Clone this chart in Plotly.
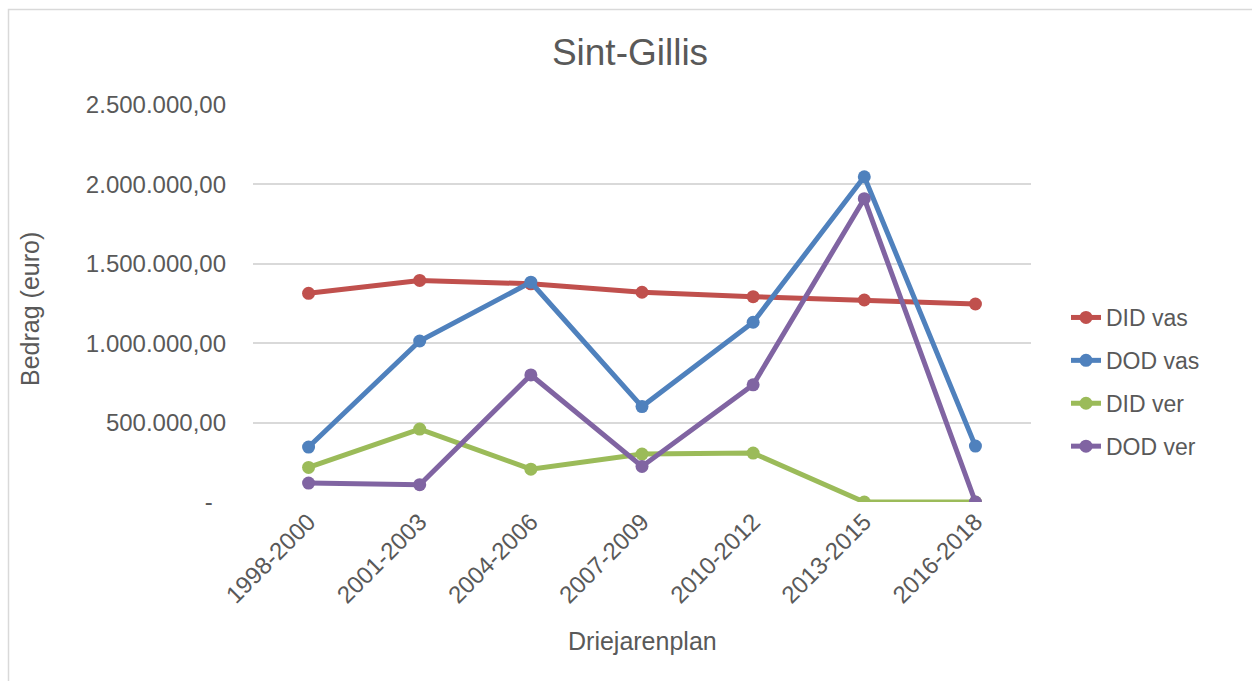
import plotly.graph_objects as go

periods = ["1998-2000", "2001-2003", "2004-2006", "2007-2009", "2010-2012", "2013-2015", "2016-2018"]
did_vas = [1314000, 1395000, 1374000, 1321000, 1293000, 1272000, 1247000]
dod_vas = [346000, 1014000, 1384000, 601000, 1132000, 2048000, 352000]
did_ver = [218000, 459000, 207000, 302000, 308000, 0, 0]
dod_ver = [119000, 109000, 800000, 224000, 738000, 1910000, 0]

y_ticks = [0, 500000, 1000000, 1500000, 2000000, 2500000]
y_tick_text = ["-\u00a0\u00a0", "500.000,00", "1.000.000,00", "1.500.000,00", "2.000.000,00", "2.500.000,00"]

series = [
    ("DID vas", did_vas, "#C0504D"),
    ("DOD vas", dod_vas, "#4F81BD"),
    ("DID ver", did_ver, "#9BBB59"),
    ("DOD ver", dod_ver, "#8064A2"),
]

FONT = "Arial, 'Liberation Sans', sans-serif"
GREY = "#595959"

fig = go.Figure()
for name, vals, color in series:
    fig.add_trace(go.Scatter(
        x=periods, y=vals, name=name, mode="lines+markers",
        line=dict(color=color, width=5),
        marker=dict(color=color, size=13),
        legendgroup=name,
    ))

# plot area in pixels: left 253, right 1031, top 105, bottom 502
L, R, T, B = 253, 1031, 105, 502
W, H = R - L, B - T

def px_x(p):
    return (p - L) / W

def px_y(p):
    return (B - p) / H

fig.update_layout(
    width=1252, height=681,
    margin=dict(l=L, r=1252 - R, t=T, b=681 - B),
    paper_bgcolor="white", plot_bgcolor="white",
    font=dict(family=FONT, color=GREY, size=24),
    showlegend=True,
    legend=dict(x=px_x(1066), y=px_y(296), xanchor="left", yanchor="top",
                font=dict(size=23, color=GREY), tracegroupgap=10,
                bgcolor="rgba(0,0,0,0)"),
    title=dict(text="Sint-Gillis", x=630 / 1252, xanchor="center",
               y=1 - 52 / 681, yanchor="middle",
               font=dict(size=37, color=GREY, family=FONT)),
    xaxis=dict(range=[-0.5, 6.5], tickangle=-45, showgrid=False, zeroline=False,
               showline=False, ticks="", tickfont=dict(size=24, color=GREY)),
    yaxis=dict(range=[0, 2500000], tickvals=y_ticks, ticktext=y_tick_text,
               showgrid=True, gridcolor="#D9D9D9", gridwidth=1.5, zeroline=False,
               showline=False, ticks="", ticklabelstandoff=26,
               tickfont=dict(size=24, color=GREY)),
    annotations=[
        dict(text="Driejarenplan", xref="paper", yref="paper",
             x=px_x(642), y=px_y(641), xanchor="center", yanchor="middle",
             showarrow=False, font=dict(size=25, color=GREY)),
        dict(text="Bedrag (euro)", xref="paper", yref="paper",
             x=px_x(30), y=px_y(309), xanchor="center", yanchor="middle",
             textangle=-90, showarrow=False, font=dict(size=25, color=GREY)),
    ],
    shapes=[
        dict(type="rect", xref="paper", yref="paper",
             x0=px_x(8.5), x1=px_x(1262), y0=px_y(690), y1=px_y(9.5),
             line=dict(color="#D9D9D9", width=1.5), fillcolor="rgba(0,0,0,0)",
             layer="below"),
    ],
)

fig.write_html("out.html")
